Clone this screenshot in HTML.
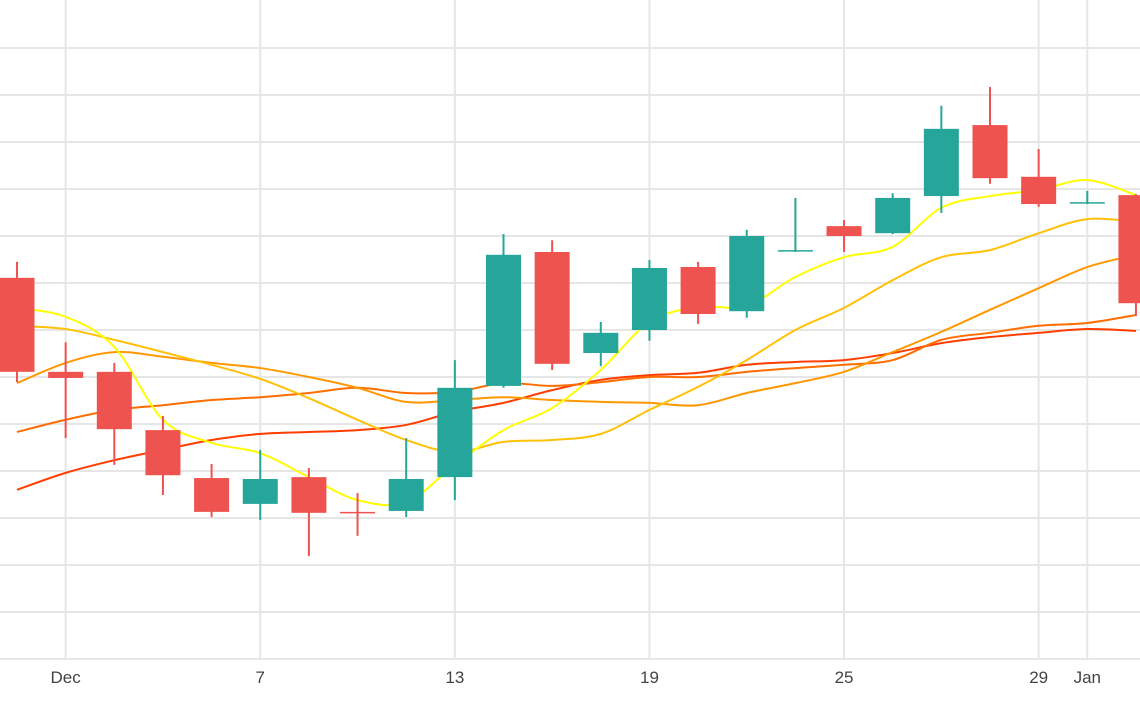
<!DOCTYPE html>
<html><head><meta charset="utf-8"><style>
html,body{margin:0;padding:0;background:#fff;}
svg{display:block;font-family:"Liberation Sans",sans-serif;}
</style></head><body>
<svg id="chart" width="1140" height="710" viewBox="0 0 1140 710" xmlns="http://www.w3.org/2000/svg">
<g id="grid"></g>
<g id="mas"></g>
<g id="candles"></g>
<g id="xaxis"></g>
</svg>
<script>
const opens  = [8.11,6.11,6.11,4.87,3.85,3.30,3.87,3.13,3.15,3.87,5.81,8.66,6.51,7.00,8.34,7.40,8.68,9.21,9.06,9.85,11.36,10.26,9.70,9.87];
const highs  = [8.45,6.74,6.30,5.17,4.15,4.45,4.06,3.53,4.70,6.36,9.04,8.91,7.17,8.49,8.45,9.13,9.81,9.34,9.91,11.77,12.17,10.85,9.96,9.89];
const lows   = [5.89,4.70,4.13,3.49,3.02,2.96,2.19,2.62,3.02,3.38,5.77,6.15,6.23,6.77,7.13,7.26,8.66,8.66,9.04,9.49,10.11,9.62,9.68,7.30];
const closes = [6.11,5.98,4.89,3.91,3.13,3.83,3.11,3.11,3.83,5.77,8.60,6.28,6.94,8.32,7.34,9.00,8.70,9.00,9.81,11.28,10.23,9.68,9.72,7.57];
const maYellow = [7.47,7.28,6.64,5.09,4.60,4.38,3.87,3.38,3.34,4.13,4.87,5.34,6.15,7.17,7.49,7.51,8.13,8.55,8.77,9.60,9.85,9.98,10.19,9.87];
const maGold   = [7.09,7.02,6.79,6.53,6.26,5.96,5.55,5.09,4.66,4.40,4.62,4.66,4.79,5.30,5.79,6.36,7.00,7.47,8.06,8.55,8.70,9.06,9.36,9.30];
const maOrange = [5.87,6.30,6.53,6.43,6.30,6.19,6.00,5.77,5.47,5.51,5.57,5.51,5.47,5.45,5.40,5.66,5.87,6.11,6.53,6.96,7.43,7.89,8.34,8.60];
const maOrangeRed = [4.83,5.09,5.30,5.40,5.51,5.57,5.66,5.77,5.66,5.68,5.87,5.81,5.89,6.00,6.00,6.11,6.19,6.26,6.36,6.79,6.94,7.09,7.15,7.32];
const maRed    = [3.60,3.96,4.23,4.45,4.66,4.79,4.83,4.87,4.98,5.26,5.45,5.72,5.94,6.04,6.09,6.26,6.32,6.36,6.51,6.72,6.85,6.94,7.02,6.98];
const tickIdx = [1,5,9,13,17,21,22];
const tickLabels = ["Dec","7","13","19","25","29","Jan"];
const yTicks = [0,1,2,3,4,5,6,7,8,9,10,11,12,13];

const NS="http://www.w3.org/2000/svg";
function X(i){return 17+i*48.65;}
function Y(v){return 659-v*47;}
function mk(tag,attrs,parent){const e=document.createElementNS(NS,tag);for(const k in attrs)e.setAttribute(k,attrs[k]);parent.appendChild(e);return e;}

const grid=document.getElementById('grid');
yTicks.forEach(v=>{
  const l=mk('line',{x1:0,x2:1140,y1:Y(v),y2:Y(v),stroke:'#e6e6e6','stroke-width':2},grid);
  
  
});
const xa=document.getElementById('xaxis');
tickIdx.forEach((t,k)=>{
  const l=mk('line',{x1:X(t),x2:X(t),y1:0,y2:659,stroke:'#e6e6e6','stroke-width':2},grid);
  
  
  const tx=mk('text',{x:X(t),y:683,'text-anchor':'middle','font-size':17,fill:'#444'},xa);
  tx.textContent=tickLabels[k];
  
  
});

function smooth(vals){
  const p=vals.map((v,i)=>[X(i),Y(v)]);
  let d='M'+p[0][0]+','+p[0][1];
  for(let i=0;i<p.length-1;i++){
    const p0=p[i-1]||p[i],p1=p[i],p2=p[i+1],p3=p[i+2]||p2;
    const c1=[p1[0]+(p2[0]-p0[0])/6,p1[1]+(p2[1]-p0[1])/6];
    const c2=[p2[0]-(p3[0]-p1[0])/6,p2[1]-(p3[1]-p1[1])/6];
    d+=' C'+c1[0]+','+c1[1]+' '+c2[0]+','+c2[1]+' '+p2[0]+','+p2[1];
  }
  return d;
}
const mas=document.getElementById('mas');
[[maRed,'#ff3d00','ma-red'],[maOrangeRed,'#ff6d00','ma-orange-red'],[maOrange,'#ff9800','ma-orange'],[maGold,'#ffc107','ma-gold'],[maYellow,'#ffff00','ma-yellow']].forEach(s=>{
  const p=mk('path',{d:smooth(s[0]),fill:'none',stroke:s[1],'stroke-width':2},mas);
  
  
});

const cg=document.getElementById('candles');
opens.forEach((o,i)=>{
  const c=closes[i],up=c>=o,col=up?'#26a69a':'#ef5350';
  const g=mk('g',{},cg);
  
  
  mk('line',{x1:X(i),x2:X(i),y1:Y(highs[i]),y2:Y(lows[i]),stroke:col,'stroke-width':2},g);
  const top=Y(Math.max(o,c)),bot=Y(Math.min(o,c));
  mk('rect',{x:X(i)-17.5,y:top,width:35,height:Math.max(bot-top,1.5),fill:col},g);
});
</script>
</body></html>
